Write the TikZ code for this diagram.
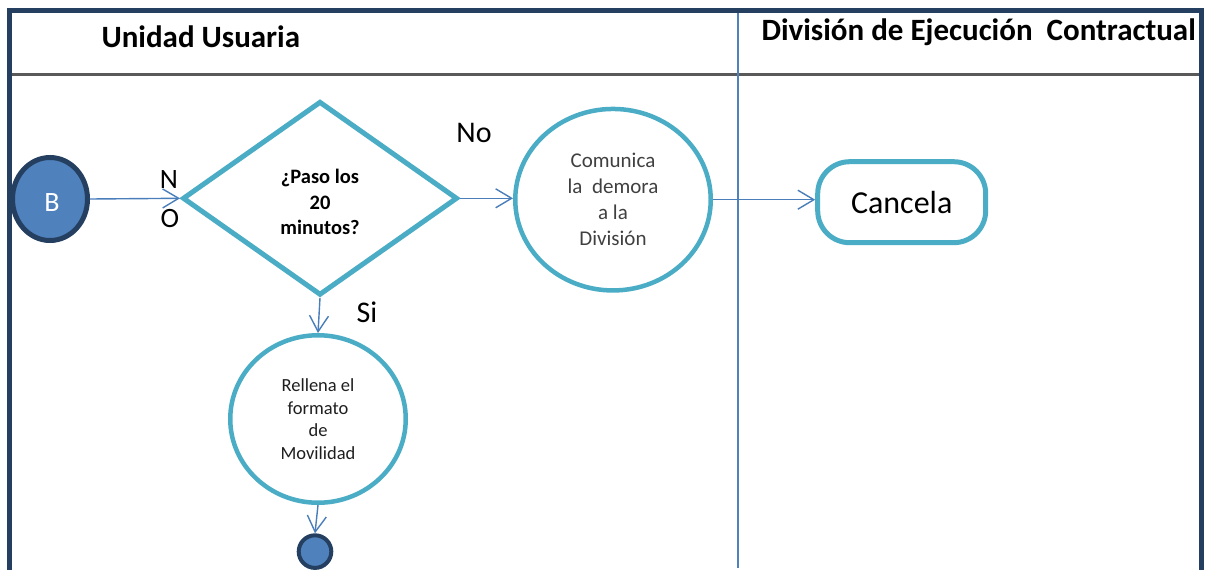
\documentclass[tikz,border=0pt]{standalone}
\usepackage{fontspec}
\setmainfont{Carlito}
\usetikzlibrary{shapes.geometric,arrows.meta}
\definecolor{framenavy}{HTML}{243F60}
\definecolor{stroketeal}{HTML}{4BACC6}
\definecolor{flowblue}{HTML}{4A7EBB}
\definecolor{fillblue}{HTML}{4F81BD}
\definecolor{rulegray}{HTML}{595959}
\definecolor{txtgray}{HTML}{404040}
\definecolor{txtdark}{HTML}{1E1E1E}

\begin{document}
\begin{tikzpicture}[x=1pt,y=-1pt,
  proc/.style={ellipse,draw=stroketeal,line width=4.5pt,inner sep=0pt,align=center},
  flow/.style={draw=flowblue,line width=1.4pt,
    -{Straight Barb[length=16pt,width=19pt,line width=1.4pt]}},
  lanehead/.style={anchor=base west,font=\bfseries\fontsize{31}{36}\selectfont},
  branch/.style={font=\fontsize{30}{36}\selectfont},
  startend/.style={ellipse,fill=fillblue,draw=framenavy,inner sep=0pt}]
\useasboundingbox (0,0) rectangle (1205,570);

% lane dividers
\draw[rulegray,line width=3pt] (12,74) -- (1199,74);
\draw[fillblue,line width=1.5pt] (738,13) -- (738,568);

% lane titles
\node[lanehead] (lane1) at (98,47) {Unidad Usuaria};
\node[lanehead] (lane2) at (758,40) {División de Ejecución\ \ Contractual};

% flow elements
\node[startend,line width=5pt,minimum width=75pt,minimum height=83pt] (b) at (50,199) {};
\node[text=white,font=\fontsize{28}{32}\selectfont] (btxt) at ([xshift=2pt,yshift=-4pt]b.center) {B};

\node[diamond,draw=stroketeal,line width=5pt,inner sep=0pt,
  minimum width=275pt,minimum height=194pt] (q) at (320,198.3) {};
\node[align=center,font=\bfseries\fontsize{20.5}{25.5}\selectfont] (qtxt)
  at ([yshift=-4pt]q.center) {¿Paso los\\20\\minutos?};

\node[proc,minimum width=195.5pt,minimum height=181.5pt,text=txtgray,
  font=\fontsize{21}{26}\selectfont] (com) at (613,199.7)
  {Comunica\\la\ \ demora\\a la\\División};

\node[draw=stroketeal,line width=5pt,rounded corners=32pt,
  minimum width=168pt,minimum height=81pt,
  font=\fontsize{32}{38}\selectfont] (can) at (901.7,202.2) {Cancela};

\node[proc,minimum width=175.5pt,minimum height=167.5pt,text=txtdark,
  font=\fontsize{18.5}{22.7}\selectfont] (rel) at (318,419)
  {Rellena el\\formato\\de\\Movilidad};

\node[startend,circle,line width=4pt,minimum size=32.6pt] (fin) at (315,551.6) {};

% branch labels
\node[branch,font=\fontsize{28}{32}\selectfont] (ln) at (169,179.5) {N};
\node[branch,font=\fontsize{28}{32}\selectfont] (lo) at (170,219) {O};
\node[branch] (lno) at (474,132.5) {No};
\node[branch] (lsi) at (367,312) {Si};

% connectors
\draw[flow] (b.east) -- (q.west);
\draw[flow] (q.east) -- (com.west |- q.east);
\draw[flow] (com.east) -- (can.west |- com.east);
\draw[flow] (q.south) -- (rel.north);
\draw[flow] (rel.south) -- (fin.north);

% outer frame
\draw[framenavy,line width=5pt] (9.5,10.5) rectangle (1201.5,572.5);
\end{tikzpicture}
\end{document}
